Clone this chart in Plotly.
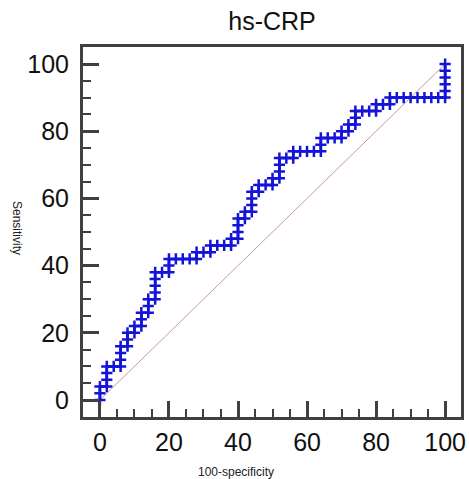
import plotly.graph_objects as go

# ROC points (100-specificity, sensitivity)
fpr = [0, 0, 0, 2, 2, 2, 2, 4, 6, 6, 6, 6, 8, 8, 8, 10, 10, 12, 12, 12, 14, 14, 14,
       16, 16, 16, 16, 16, 18, 20, 20, 20, 22, 24, 26, 28, 28, 30, 32, 32, 34, 36, 38,
       38, 40, 40, 40, 40, 42, 42, 44, 44, 44, 44, 46, 46, 48, 50, 50, 52, 52, 52, 52,
       54, 56, 56, 58, 60, 62, 64, 64, 64, 66, 68, 70, 70, 72, 72, 74, 74, 74, 76, 78,
       80, 80, 82, 84, 84, 86, 88, 90, 92, 94, 96, 98, 100, 100, 100, 100, 100, 100]
sens = [0, 2, 4, 4, 6, 8, 10, 10, 10, 12, 14, 16, 16, 18, 20, 20, 22, 22, 24, 26, 26, 28, 30,
        30, 32, 34, 36, 38, 38, 38, 40, 42, 42, 42, 42, 42, 44, 44, 44, 46, 46, 46, 46,
        48, 48, 50, 52, 54, 54, 56, 56, 58, 60, 62, 62, 64, 64, 64, 66, 66, 68, 70, 72,
        72, 72, 74, 74, 74, 74, 74, 76, 78, 78, 78, 78, 80, 80, 82, 82, 84, 86, 86, 86,
        86, 88, 88, 88, 90, 90, 90, 90, 90, 90, 90, 90, 90, 92, 94, 96, 98, 100]

diag_x = [0, 100]
diag_y = [0, 100]

tick_vals = [0, 20, 40, 60, 80, 100]
tick_text = ["0", "20", "40", "60", "80", "100"]

title_text = "hs-CRP"
x_title = "100-specificity"
y_title = "Sensitivity"

W, H = 469, 479

fig = go.Figure()
fig.add_trace(go.Scatter(x=diag_x, y=diag_y, mode="lines",
                         line=dict(color="rgb(205,150,165)", width=1),
                         showlegend=False, hoverinfo="skip"))
fig.add_trace(go.Scatter(x=fpr, y=sens, mode="lines+markers",
                         line=dict(color="#1414d8", width=2.5),
                         marker=dict(symbol="cross-thin", size=8,
                                     line=dict(color="#1414d8", width=2.5)),
                         showlegend=False))

axis_common = dict(
    showline=True, linecolor="#404040", linewidth=3, mirror=True,
    ticks="inside", ticklen=16, tickwidth=3, tickcolor="#404040",
    tickvals=tick_vals, ticktext=tick_text,
    tickfont=dict(family="Liberation Sans, Arial", size=25, color="#111"),
    minor=dict(ticks="inside", ticklen=8, tickwidth=2, tickcolor="#404040", dtick=5, tick0=0),
    showgrid=False, zeroline=False, fixedrange=True,
)

fig.update_layout(
    width=W, height=H,
    margin=dict(l=83, r=8, t=47, b=62, autoexpand=False),
    paper_bgcolor="white", plot_bgcolor="white",
    title=dict(text=title_text, x=272 / W, xanchor="center",
               y=1 - 21 / H, yanchor="middle",
               font=dict(family="Liberation Sans, Arial", size=25, color="#111")),
    xaxis=dict(range=[-4.9, 104.6], ticklabelstandoff=1, **axis_common),
    yaxis=dict(range=[-5.06, 105.06], ticklabelstandoff=6, **axis_common),
    annotations=[
        dict(text=x_title, xref="paper", yref="paper", x=(236-83)/378, y=(417-472)/370,
             xanchor="center", yanchor="middle", showarrow=False,
             font=dict(family="Liberation Sans, Arial", size=12, color="#222")),
        dict(text=y_title, xref="paper", yref="paper", x=(17-83)/378, y=(417-228)/370,
             xanchor="center", yanchor="middle", showarrow=False, textangle=90,
             font=dict(family="Liberation Sans, Arial", size=12, color="#222")),
    ],
)

fig.write_html(
    "out.html",
    config={"displayModeBar": False},
    post_script="document.body.style.margin='0px';document.body.style.overflow='hidden';",
)
